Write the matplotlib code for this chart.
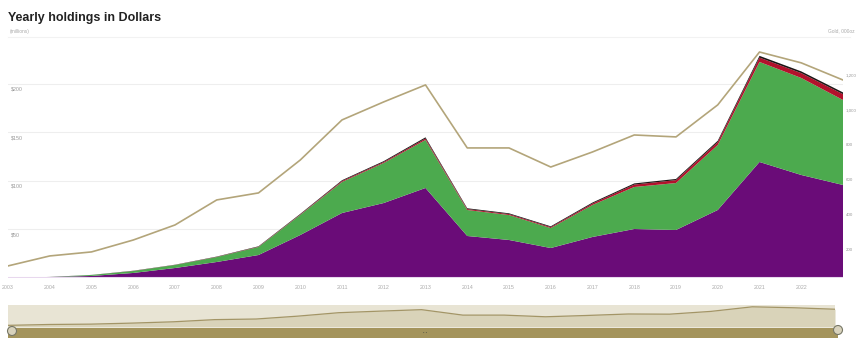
import matplotlib.pyplot as plt
from matplotlib.patches import Rectangle, Circle

plt.rcParams["font.family"] = ["Liberation Sans", "DejaVu Sans"]

years = list(range(2003, 2024))
tick_years = list(range(2003, 2023))

# stacked holdings (left axis, $ millions)
purple = [0.2, 1.0, 2.1, 5.2, 10.3, 16.5, 23.7, 44.3, 67.0, 77.3, 92.8, 43.3, 39.2, 30.9,
          42.3, 50.5, 49.5, 70.1, 119.6, 106.2, 95.9]
green = [0.0, 0.0, 1.0, 2.0, 3.1, 5.1, 8.3, 20.7, 32.0, 41.3, 49.5, 26.8, 25.7, 20.6,
         33.0, 43.3, 48.4, 67.0, 103.1, 100.0, 87.6]
red = [0.0, 0.0, 0.0, 0.1, 0.1, 0.2, 0.3, 0.5, 1.0, 1.0, 1.5, 1.0, 1.0, 1.0,
       1.5, 2.5, 3.0, 3.0, 4.5, 5.0, 6.0]
black = [0.1, 0.1, 0.1, 0.2, 0.2, 0.3, 0.4, 0.6, 0.8, 0.9, 1.2, 0.8, 0.8, 0.8,
         1.0, 1.2, 1.2, 1.4, 1.8, 1.8, 1.8]

# ounces line (right axis, 000oz)
ounces = [109, 166, 189, 257, 343, 486, 526, 714, 943, 1046, 1143, 783, 783, 674,
          760, 857, 846, 1029, 1331, 1269, 1171]

left_ticks = [50, 100, 150, 200]
left_labels = ["$50", "$100", "$150", "$200"]
right_ticks = [200, 400, 600, 800, 1000, 1200]
right_labels = ["200", "400", "600", "800", "1,000", "1,200"]

W, H = 858, 338
fig = plt.figure(figsize=(W / 100, H / 100), dpi=100)

x0, x1 = 8, 843
ytop, ybot = 38, 278
ax = fig.add_axes([x0 / W, 1 - ybot / H, (x1 - x0) / W, (ybot - ytop) / H])
ax.stackplot(years, purple, green, red, black,
             colors=["#6a0c78", "#4caa4e", "#b2122c", "#1c1414"], lw=0)
ax.set_xlim(years[0], years[-1])
ax.set_ylim(0, 247.4)
ax.set_yticks(left_ticks)
ax.set_yticklabels([])
ax.tick_params(axis="y", length=0)
ax.grid(axis="y", color="#eeeeee", lw=0.8)
ax.set_axisbelow(True)
for t, lab in zip(left_ticks, left_labels):
    ax.text(0.003, t - 3, lab, fontsize=3.8, color="#999999", va="top",
            transform=ax.get_yaxis_transform())
ax.set_xticks(tick_years)
ax.set_xticklabels([str(y) for y in tick_years], fontsize=3.8, color="#aaaaaa")
ax.tick_params(axis="x", length=0, pad=5)
for s in ax.spines.values():
    s.set_visible(False)
ax.axhline(0, color="#e8d8ee", lw=1.5)

ax2 = ax.twinx()
ax2.plot(years, ounces, color="#b3a57a", lw=1.2)
ax2.set_ylim(40, 1411)
ax2.set_yticks(right_ticks)
ax2.set_yticklabels(right_labels, fontsize=3.2, color="#999999")
ax2.tick_params(axis="y", length=0, pad=2)
for s in ax2.spines.values():
    s.set_visible(False)

fig.text(8 / W, 1 - 18 / H, "Yearly holdings in Dollars", fontsize=9,
         fontweight="bold", va="center", color="#222222")
fig.text(10 / W, 1 - 31 / H, "(millions)", fontsize=3.5, va="center", color="#aaaaaa")
fig.text(855 / W, 1 - 31 / H, "Gold, 000oz", fontsize=3.5, va="center", ha="right",
         color="#aaaaaa")
fig.add_artist(plt.Line2D([8 / W, 850 / W], [1 - 37 / H, 1 - 37 / H],
                          color="#f2f2f2", lw=0.8))

# navigator
nav = fig.add_axes([x0 / W, 1 - 327 / H, (835 - x0) / W, 22 / H])
nav.set_facecolor("#e8e4d4")
nav.fill_between(years, ounces, 0, color="#d9d3b9", lw=0)
nav.plot(years, ounces, color="#a39566", lw=0.9)
nav.set_xlim(years[0], years[-1])
nav.set_ylim(0, 1450)
nav.set_xticks([])
nav.set_yticks([])
for s in nav.spines.values():
    s.set_visible(False)

over = fig.add_axes([0, 0, 1, 1], zorder=5)
over.set_xlim(0, W)
over.set_ylim(H, 0)
over.axis("off")
over.add_patch(Rectangle((8, 328), 830, 10, color="#a4945c", lw=0))
over.add_patch(Circle((12, 331), 4.5, facecolor="#d8d2bc", edgecolor="#777766", lw=0.8))
over.add_patch(Circle((838, 330), 4.5, facecolor="#d8d2bc", edgecolor="#777766", lw=0.8))
over.text(425, 333, "• •", fontsize=3, color="#555544", ha="center", va="center")

fig.savefig("out.png", dpi=100)
